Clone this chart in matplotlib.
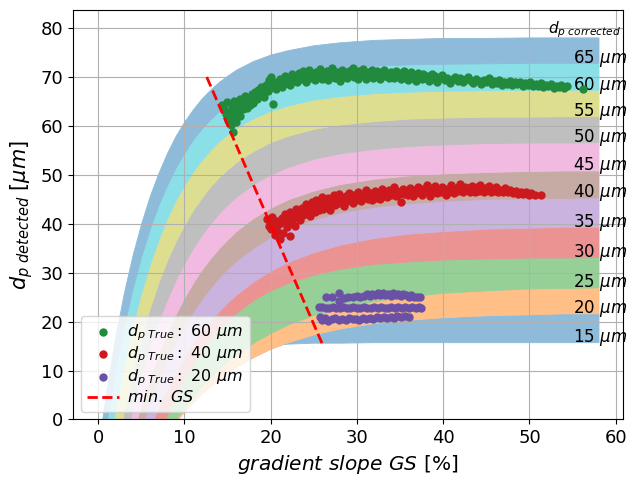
import numpy as np
import matplotlib
matplotlib.use("Agg")
import matplotlib.pyplot as plt
from matplotlib.colors import to_rgb

# corrected particle diameters, one coloured band each
dp_corrected = [15, 20, 25, 30, 35, 40, 45, 50, 55, 60, 65]

# gradient slope grid and the band edges (d_p detected) read along it, bottom edge first
gs_grid = [0, 1, 2, 3, 4, 5, 6, 7, 8, 9, 10, 11, 12, 13, 14, 15, 16, 18, 20, 22, 25, 28, 32, 36, 40, 45, 50, 54, 58]
band_edges = [
    [-10, -10, -10, -10, -10, -10, -10, -8.5, -2.4, 2.1, 5.5, 8.1, 10.0, 11.4, 12.5, 13.3, 13.9, 14.8, 15.2, 15.5, 15.7, 15.7, 15.8, 15.8, 15.8, 15.8, 15.8, 15.8, 15.8],
    [-10, -10, -10, -10, -10, -10, -8.3, -5.4, -2.8, -0.4, 1.7, 3.6, 5.3, 6.9, 8.3, 9.6, 10.8, 12.8, 14.5, 15.8, 17.4, 18.6, 19.7, 20.4, 20.9, 21.3, 21.5, 21.7, 21.7],
    [-10, -10, -10, -10, -10, -10, -9.0, -5.7, -2.7, 0.0, 2.5, 4.7, 6.8, 8.6, 10.3, 11.9, 13.3, 15.7, 17.7, 19.4, 21.4, 22.8, 24.2, 25.2, 25.9, 26.4, 26.8, 26.9, 27.0],
    [-10, -10, -10, -10, -10, -10, -8.7, -3.6, 0.9, 4.8, 8.3, 11.3, 14.0, 16.3, 18.4, 20.2, 21.8, 24.4, 26.4, 27.9, 29.6, 30.8, 31.8, 32.3, 32.7, 32.9, 33.1, 33.1, 33.2],
    [-10, -10, -10, -10, -10, -6.4, -1.7, 2.5, 6.3, 9.7, 12.7, 15.5, 17.9, 20.1, 22.1, 23.9, 25.5, 28.2, 30.4, 32.2, 34.2, 35.7, 37.1, 38.0, 38.5, 39.0, 39.2, 39.4, 39.4],
    [-10, -10, -10, -10, -7.4, -1.6, 3.6, 8.2, 12.3, 15.9, 19.2, 22.0, 24.6, 26.9, 29.0, 30.8, 32.4, 35.1, 37.3, 39.0, 40.9, 42.3, 43.5, 44.2, 44.7, 45.1, 45.2, 45.3, 45.4],
    [-10, -10, -10, -10, -3.2, 3.0, 8.5, 13.4, 17.7, 21.5, 24.9, 27.9, 30.6, 32.9, 35.0, 36.8, 38.5, 41.2, 43.3, 45.0, 46.8, 48.1, 49.2, 49.9, 50.3, 50.6, 50.8, 50.9, 50.9],
    [-10, -10, -10, -5.5, 2.2, 8.9, 14.8, 20.0, 24.5, 28.5, 31.9, 35.0, 37.7, 40.0, 42.1, 43.9, 45.5, 48.1, 50.1, 51.6, 53.3, 54.4, 55.3, 55.9, 56.2, 56.5, 56.6, 56.6, 56.7],
    [-10, -10, -7.5, 1.7, 9.8, 16.7, 22.7, 28.0, 32.5, 36.4, 39.8, 42.8, 45.3, 47.6, 49.5, 51.1, 52.6, 54.9, 56.7, 58.0, 59.4, 60.3, 61.0, 61.5, 61.7, 61.9, 61.9, 62.0, 62.0],
    [-10, -8.7, 2.0, 11.2, 19.1, 25.9, 31.7, 36.7, 41.1, 44.8, 47.9, 50.7, 53.0, 55.0, 56.8, 58.3, 59.6, 61.6, 63.1, 64.2, 65.4, 66.1, 66.7, 67.0, 67.2, 67.3, 67.4, 67.4, 67.4],
    [-10, -0.4, 10.0, 19.0, 26.7, 33.3, 38.9, 43.8, 47.9, 51.5, 54.5, 57.2, 59.4, 61.3, 63.0, 64.4, 65.6, 67.5, 69.0, 70.0, 71.1, 71.7, 72.3, 72.6, 72.7, 72.8, 72.9, 72.9, 72.9],
    [-5.9, 6.4, 16.9, 25.9, 33.6, 40.1, 45.7, 50.4, 54.5, 58.0, 60.9, 63.4, 65.6, 67.4, 69.0, 70.3, 71.5, 73.3, 74.6, 75.5, 76.5, 77.1, 77.6, 77.8, 78.0, 78.0, 78.1, 78.1, 78.1],
]

# measured particles
green_gs = [14.4, 14.6, 14.8, 15.0, 15.1, 15.3, 15.4, 15.5, 15.6, 15.7, 15.8, 15.9, 16.0, 16.1, 16.3, 16.4,
            16.5, 16.7, 16.8, 17.0, 17.1, 17.3, 17.4, 17.6, 17.8, 17.9,
            18.0, 18.2, 18.4, 18.5, 18.7, 18.9, 19.0, 19.2, 19.3, 19.5, 19.7, 19.8, 20.0, 20.1, 20.3, 20.4,
            20.6, 20.8, 20.9, 21.1, 21.3, 21.5, 21.7, 21.9, 22.1, 22.3, 22.5, 22.7, 22.9,
            23.1, 23.3, 23.5, 23.7, 23.9, 24.1, 24.3, 24.5, 24.7, 24.9, 25.1, 25.3, 25.5, 25.7, 25.9, 26.1,
            26.3, 26.5, 26.7, 26.9, 27.1, 27.3, 27.5, 27.7, 27.9, 28.1, 28.3, 28.5, 28.7, 28.9, 29.1, 29.3,
            29.5, 29.7, 29.9, 30.1, 30.3, 30.5, 30.7, 30.9, 31.1, 31.3, 31.5, 31.7, 31.9, 32.1, 32.3, 32.5,
            32.7, 32.9,
            33.1, 33.3, 33.5, 33.7, 33.9, 34.1, 34.3, 34.5, 34.7, 34.9, 35.1, 35.3, 35.5, 35.7, 35.9, 36.1,
            36.3, 36.5, 36.7, 36.9, 37.1, 37.3, 37.5, 37.7, 37.9, 38.1, 38.3, 38.5, 38.7, 38.9, 39.1, 39.3,
            39.6, 39.9, 40.2, 40.5, 40.8, 41.1, 41.4, 41.7, 42.0, 42.3, 42.6, 42.9, 43.2, 43.5, 43.8, 44.1,
            44.4, 44.7, 45.0, 45.3, 45.6, 45.9,
            46.2, 46.5, 46.8, 47.1, 47.4, 47.7, 48.0, 48.3, 48.6, 48.9, 49.2, 49.5, 49.8, 50.1, 50.4, 50.7,
            51.0, 51.3, 51.6, 51.9, 52.2, 52.5, 52.8, 53.1, 53.4, 53.7, 54.0, 54.3, 56.2]
green_dp = [64.2, 63.5, 62.4, 64.8, 61.3, 62.9, 60.2, 63.8, 58.7, 61.8, 65.1, 62.5, 60.9, 64.0, 63.1, 65.6,
            62.0, 64.6, 63.4, 66.2, 64.9, 63.6, 65.8, 64.3, 66.6, 65.2,
            64.7, 66.9, 65.6, 67.4, 66.1, 68.0, 66.8, 65.9, 67.6, 68.4, 67.1, 69.3, 70.1, 67.9, 64.4, 68.6,
            67.5, 69.0, 68.2, 69.6, 68.0, 69.2, 70.3, 68.7, 69.8, 68.4, 70.6, 69.3, 70.0,
            68.9, 70.8, 69.6, 71.2, 70.1, 69.0, 70.5, 71.4, 69.8, 70.7, 69.3, 71.0, 70.2, 71.6, 69.6, 70.9,
            70.0, 71.3, 69.4, 70.6, 71.8, 70.3, 69.8, 71.1, 70.5, 69.2, 71.4, 70.1, 70.8, 69.7, 71.2, 70.4,
            71.9, 70.0, 70.9, 69.5, 71.3, 70.6, 71.7, 70.2, 69.6, 71.1, 70.4, 71.5, 69.9, 70.8, 71.3, 70.1,
            69.5, 70.9,
            71.4, 70.2, 70.8, 69.7, 71.1, 70.5, 69.9, 71.2, 70.3, 70.9, 69.6, 70.7, 71.3, 70.0, 69.4, 70.6,
            71.0, 69.8, 70.4, 69.2, 70.8, 70.1, 69.5, 70.6, 69.9, 70.3, 69.1, 70.0, 70.7, 69.6, 70.2, 69.0,
            69.8, 70.4, 69.3, 69.9, 68.8, 69.6, 70.1, 69.2, 69.7, 68.9, 69.5, 70.0, 69.1, 68.7, 69.6, 69.2,
            68.6, 69.4, 68.9, 69.7, 68.5, 69.2,
            68.8, 69.4, 68.4, 69.0, 68.6, 69.2, 68.3, 68.9, 68.5, 69.0, 68.2, 68.7, 68.4, 68.9, 68.1, 68.5,
            68.2, 68.7, 67.9, 68.4, 68.1, 68.5, 67.8, 68.2, 67.9, 68.3, 67.8, 68.1, 67.6]

red_gs = [19.6, 19.8, 19.9, 20.1, 20.2, 20.4, 20.5, 20.7, 20.8, 21.0, 21.1, 21.3, 21.4, 21.6, 21.7, 21.9,
          22.0, 22.2, 22.3, 22.5, 22.6, 22.8, 22.9, 23.1, 23.2, 23.4,
          23.6, 23.8, 23.9, 24.1, 24.3, 24.4, 24.6, 24.8, 24.9, 25.1, 25.3, 25.4, 25.6, 25.8, 25.9, 26.1,
          26.3, 26.5, 26.7, 26.9, 27.1, 27.3, 27.5, 27.7, 27.9, 28.1, 28.3, 28.5, 28.7, 28.9, 29.1, 29.3,
          29.5, 29.7,
          29.9, 30.1, 30.3, 30.5, 30.7, 30.9, 31.1, 31.3, 31.5, 31.7, 31.9, 32.1, 32.3, 32.5, 32.7, 32.9,
          33.1, 33.3, 33.5, 33.7, 33.9, 34.1, 34.3, 34.5, 34.7, 34.9, 35.1, 35.3, 35.5, 35.7, 35.9, 36.1,
          36.3, 36.5, 36.7, 36.9, 37.1, 37.3, 37.5, 37.7, 37.9, 38.1, 38.3, 38.5, 38.7, 38.9, 39.1, 39.3,
          39.5, 39.7, 39.9, 40.1, 40.3, 40.5, 40.7,
          40.9, 41.1, 41.3, 41.5, 41.7, 41.9, 42.1, 42.3, 42.5, 42.7, 42.9, 43.1, 43.3, 43.5, 43.7, 43.9,
          44.1, 44.3, 44.5, 44.7, 44.9, 45.1, 45.3, 45.5, 45.7, 45.9, 46.1, 46.3, 46.6, 46.9, 47.2, 47.5,
          47.8, 48.1, 48.4, 48.7, 49.0, 49.3, 49.6, 49.9, 50.2, 50.6, 51.3]
red_dp = [41.0, 39.6, 40.5, 38.9, 41.4, 39.8, 37.8, 40.6, 38.6, 39.9, 36.9, 41.2, 38.2, 40.4, 42.1, 39.3,
          41.0, 37.6, 42.4, 40.2, 41.6, 39.6, 43.0, 41.3, 42.2, 40.7,
          43.3, 41.8, 42.7, 44.0, 42.3, 43.5, 41.6, 44.4, 43.0, 42.4, 44.8, 43.6, 42.9, 44.2, 45.5, 43.1,
          44.6, 43.8, 45.2, 42.8, 44.5, 45.8, 43.9, 44.9, 46.1, 44.2, 45.3, 43.6, 45.7, 44.7, 46.3, 45.0,
          44.3, 45.9,
          44.8, 46.4, 45.2, 44.6, 46.0, 45.4, 47.0, 45.1, 46.2, 44.9, 45.8, 46.7, 45.3, 46.3, 45.0, 47.2,
          45.7, 46.5, 45.4, 46.9, 45.9, 46.4, 47.5, 45.6, 46.8, 46.1, 44.4, 47.1, 46.0, 46.7, 45.8, 47.4,
          46.3, 45.7, 46.9, 46.2, 47.6, 46.5, 45.9, 47.1, 46.4, 48.0, 46.7, 45.6, 47.3, 46.6, 47.8, 46.2,
          47.0, 46.4, 47.5, 46.8, 45.9, 47.2, 46.6,
          47.9, 46.9, 46.3, 47.4, 46.7, 48.1, 47.0, 46.4, 47.6, 46.9, 47.3, 46.5, 47.8, 47.1, 46.6, 47.5,
          46.8, 47.9, 47.2, 46.4, 47.4, 46.9, 47.7, 46.6, 47.2, 46.8, 47.5, 46.5, 47.0, 46.6, 47.3, 46.4,
          46.9, 46.3, 46.8, 46.1, 46.6, 46.0, 46.4, 45.9, 46.2, 45.8, 45.8]

purple_gs = [26.4, 27.1, 27.9, 27.9, 28.5, 29.0, 29.5, 30.0, 30.4, 30.8, 31.2, 31.5, 31.8, 32.1, 32.4, 32.7,
             33.0, 33.3, 33.6, 33.9, 34.2, 34.5, 34.8, 35.1, 35.4, 35.7, 36.0, 36.3, 36.6, 37.0, 37.3,
             25.6, 26.0, 26.4, 26.8, 27.2, 27.6, 28.0, 28.4, 28.8, 29.2, 29.6, 30.0, 30.4, 30.8, 31.2, 31.6,
             32.0, 32.4, 32.8, 33.2, 33.6, 34.0, 34.4, 34.8, 35.2, 35.6, 36.0, 36.4, 36.8, 37.2, 37.4,
             25.7, 26.0, 26.3, 26.7, 27.1, 27.5, 27.9, 28.3, 28.7, 29.1, 29.5, 29.9, 30.3, 30.7, 31.1, 31.5,
             31.9, 32.3, 32.7, 33.1, 33.5, 33.9, 34.3, 34.7, 35.1, 35.6, 36.0]
purple_dp = [25.0, 25.0, 25.9, 24.3, 24.9, 25.1, 25.0, 25.2, 25.0, 25.3, 25.6, 25.2, 25.7, 25.4, 25.8, 25.5,
             25.8, 25.4, 25.7, 25.3, 25.8, 25.5, 25.6, 25.2, 25.7, 25.5, 25.1, 25.4, 25.0, 25.1, 25.1,
             22.9, 23.0, 22.7, 22.8, 22.9, 22.7, 22.8, 22.9, 22.7, 22.8, 22.9, 22.8, 22.7, 22.9, 22.8, 22.7,
             22.9, 22.8, 22.9, 22.7, 22.8, 22.9, 22.8, 22.9, 22.8, 22.9, 22.8, 22.9, 22.8, 22.9, 22.8,
             20.9, 20.4, 20.7, 20.2, 20.5, 20.8, 20.3, 20.6, 20.4, 20.7, 20.5, 20.6, 20.4, 20.7, 20.5, 20.8,
             20.6, 20.9, 20.7, 21.0, 20.8, 21.0, 20.8, 21.1, 20.9, 21.2, 21.0]

# minimum gradient slope line
min_gs_x = [12.6, 26.1]
min_gs_y = [70.0, 15.0]

fig = plt.figure(figsize=(6.27, 4.78), dpi=100)
ax = fig.add_axes([0.1164, 0.1224, 0.8767, 0.8567])

for i, dp in enumerate(dp_corrected):
    # half transparent tab10 colour, flattened to opaque so neighbouring bands leave no seams
    c = 0.5 * np.array(to_rgb('C%d' % (i % 10))) + 0.5
    ax.fill_between(gs_grid, band_edges[i], band_edges[i + 1], facecolor=c, edgecolor=c, lw=0.6)
    ax.text(55.0, band_edges[i][-1], r'$%d\ \mu m$' % dp, fontsize=12)
ax.text(52.2, 79.0, r'$d_{p\ corrected}$', fontsize=11)

ax.scatter(green_gs, green_dp, s=25, color='#218a3c', zorder=3, label=r'$d_{p\ True}:\ 60\ \mu m$')
ax.scatter(red_gs, red_dp, s=25, color='#cd191e', zorder=3, label=r'$d_{p\ True}:\ 40\ \mu m$')
ax.scatter(purple_gs, purple_dp, s=25, color='#6a51a6', zorder=3, label=r'$d_{p\ True}:\ 20\ \mu m$')
ax.plot(min_gs_x, min_gs_y, '--', color='red', lw=2, zorder=4, label=r'$min.\ GS$')
ax.legend(loc='lower left', fontsize=11.5, handletextpad=0.5, labelspacing=0.1, borderpad=0.4)

ax.set_xlim(-2.9, 60.8)
ax.set_ylim(0, 83.7)
ax.grid(True, color='#b0b0b0')
ax.tick_params(labelsize=13)
ax.set_xlabel(r'$gradient\ slope\ GS$ [%]', fontsize=14.5)
ax.set_ylabel(r'$d_{p\ detected}\ [\mu m]$', fontsize=15)
plt.savefig('out.png')
